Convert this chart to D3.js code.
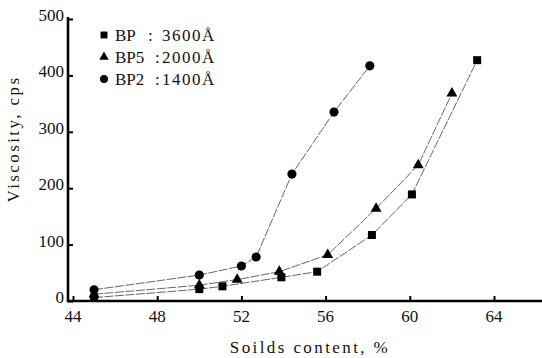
<!DOCTYPE html>
<html><head><meta charset="utf-8">
<script src="https://cdn.jsdelivr.net/npm/d3@7/dist/d3.min.js"></script>
<style>body{margin:0;background:#fff}svg{display:block}</style>
</head><body><svg id="c" width="542" height="358" font-family="'Liberation Serif', 'Times New Roman', Times, 'DejaVu Serif', serif"></svg>
<script>
const seriesNames = ["BP", "BP5", "BP2"];
const seriesSizes = ["3600Å", "2000Å", "1400Å"];
const bpX  = [45, 50, 51.1, 53.9, 55.6, 58.2, 60.1, 63.2];
const bpY  = [6, 21, 26, 42, 52, 117, 189, 427];
const bp5X = [45, 50, 51.8, 53.8, 56.1, 58.4, 60.4, 62.0];
const bp5Y = [12, 28, 38, 52, 82, 164, 241, 368];
const bp2X = [45, 50, 52.0, 52.7, 54.4, 56.4, 58.1];
const bp2Y = [20, 46, 62, 78, 225, 335, 417];
const xTicks = [44, 48, 52, 56, 60, 64];
const yTicks = [0, 100, 200, 300, 400, 500];
const xTitle = "Soilds content, %";
const yTitle = "Viscosity, cps";

const svg = d3.select("#c");
const x = d3.scaleLinear().domain([44, 64]).range([73, 494]);
const y = d3.scaleLinear().domain([0, 500]).range([301, 19]);
const x0 = 68, xEnd = 542;
const ink = "#111";

const series = [
  {name: seriesNames[0], size: seriesSizes[0], xs: bpX, ys: bpY, shape: d3.symbolSquare, area: 64},
  {name: seriesNames[1], size: seriesSizes[1], xs: bp5X, ys: bp5Y, shape: d3.symbolTriangle, area: 52},
  {name: seriesNames[2], size: seriesSizes[2], xs: bp2X, ys: bp2Y, shape: d3.symbolCircle, area: 66}
];

const line = d3.line().x(d => x(d[0])).y(d => y(d[1]));
series.forEach(s => {
  const pts = s.xs.map((v, i) => [v, s.ys[i]]);
  svg.append("path").attr("d", line(pts)).attr("fill", "none")
    .attr("stroke", "#333").attr("stroke-width", 0.75).attr("stroke-dasharray", "9,1.5");
});
series.forEach(s => {
  const pts = s.xs.map((v, i) => [v, s.ys[i]]);
  svg.selectAll(null).data(pts).enter().append("path")
    .attr("d", d3.symbol().type(s.shape).size(s.area))
    .attr("transform", d => `translate(${x(d[0])},${y(d[1])})`)
    .attr("fill", "#000");
});

// axes
svg.append("line").attr("x1", x0).attr("x2", x0).attr("y1", y(500) - 2).attr("y2", y(0) + 1)
  .attr("stroke", "#000").attr("stroke-width", 2.6);
svg.append("line").attr("x1", x0 - 1).attr("x2", xEnd).attr("y1", y(0)).attr("y2", y(0))
  .attr("stroke", "#000").attr("stroke-width", 2.4);

const yAxis = d3.axisRight(y).tickValues(yTicks).tickSize(5).tickFormat("");
const gy = svg.append("g").attr("transform", `translate(${x0},0)`).call(yAxis);
gy.select(".domain").remove();
gy.selectAll(".tick line").attr("stroke", "#000").attr("stroke-width", 2);
svg.selectAll(null).data(yTicks).enter().append("text")
  .attr("x", 64).attr("y", d => y(d) - 2).attr("text-anchor", "end")
  .attr("dominant-baseline", "middle").attr("font-size", 17).attr("fill", ink).text(d => d);

const xAxis = d3.axisTop(x).tickValues(xTicks).tickSize(5).tickFormat("");
const gx = svg.append("g").attr("transform", `translate(0,${y(0)})`).call(xAxis);
gx.select(".domain").remove();
gx.selectAll(".tick line").attr("stroke", "#000").attr("stroke-width", 2);
svg.selectAll(null).data(xTicks).enter().append("text")
  .attr("x", d => x(d)).attr("y", 322).attr("text-anchor", "middle")
  .attr("font-size", 17).attr("fill", ink).text(d => d);

svg.append("text").attr("x", 310).attr("y", 353).attr("text-anchor", "middle")
  .attr("font-size", 17).attr("letter-spacing", 2.4).attr("fill", ink).text(xTitle);
svg.append("text").attr("transform", "translate(19,139) rotate(-90)")
  .attr("text-anchor", "middle").attr("font-size", 17).attr("letter-spacing", 2.4).attr("fill", ink).text(yTitle);

// legend
series.forEach((s, i) => {
  const ly = 35 + i * 22;
  svg.append("path").attr("d", d3.symbol().type(s.shape).size(s.area * 0.75))
    .attr("transform", `translate(104,${ly})`).attr("fill", "#000");
  svg.append("text").attr("x", 115).attr("y", ly + 6).attr("font-size", 17).attr("fill", ink).text(s.name);
  svg.append("text").attr("x", i === 0 ? 148 : 155).attr("y", ly + 6).attr("font-size", 17).attr("fill", ink).text(":");
  svg.append("text").attr("x", 162).attr("y", ly + 6).attr("font-size", 17).attr("letter-spacing", 1.5)
    .attr("fill", ink).text(s.size);
});
</script></body></html>
